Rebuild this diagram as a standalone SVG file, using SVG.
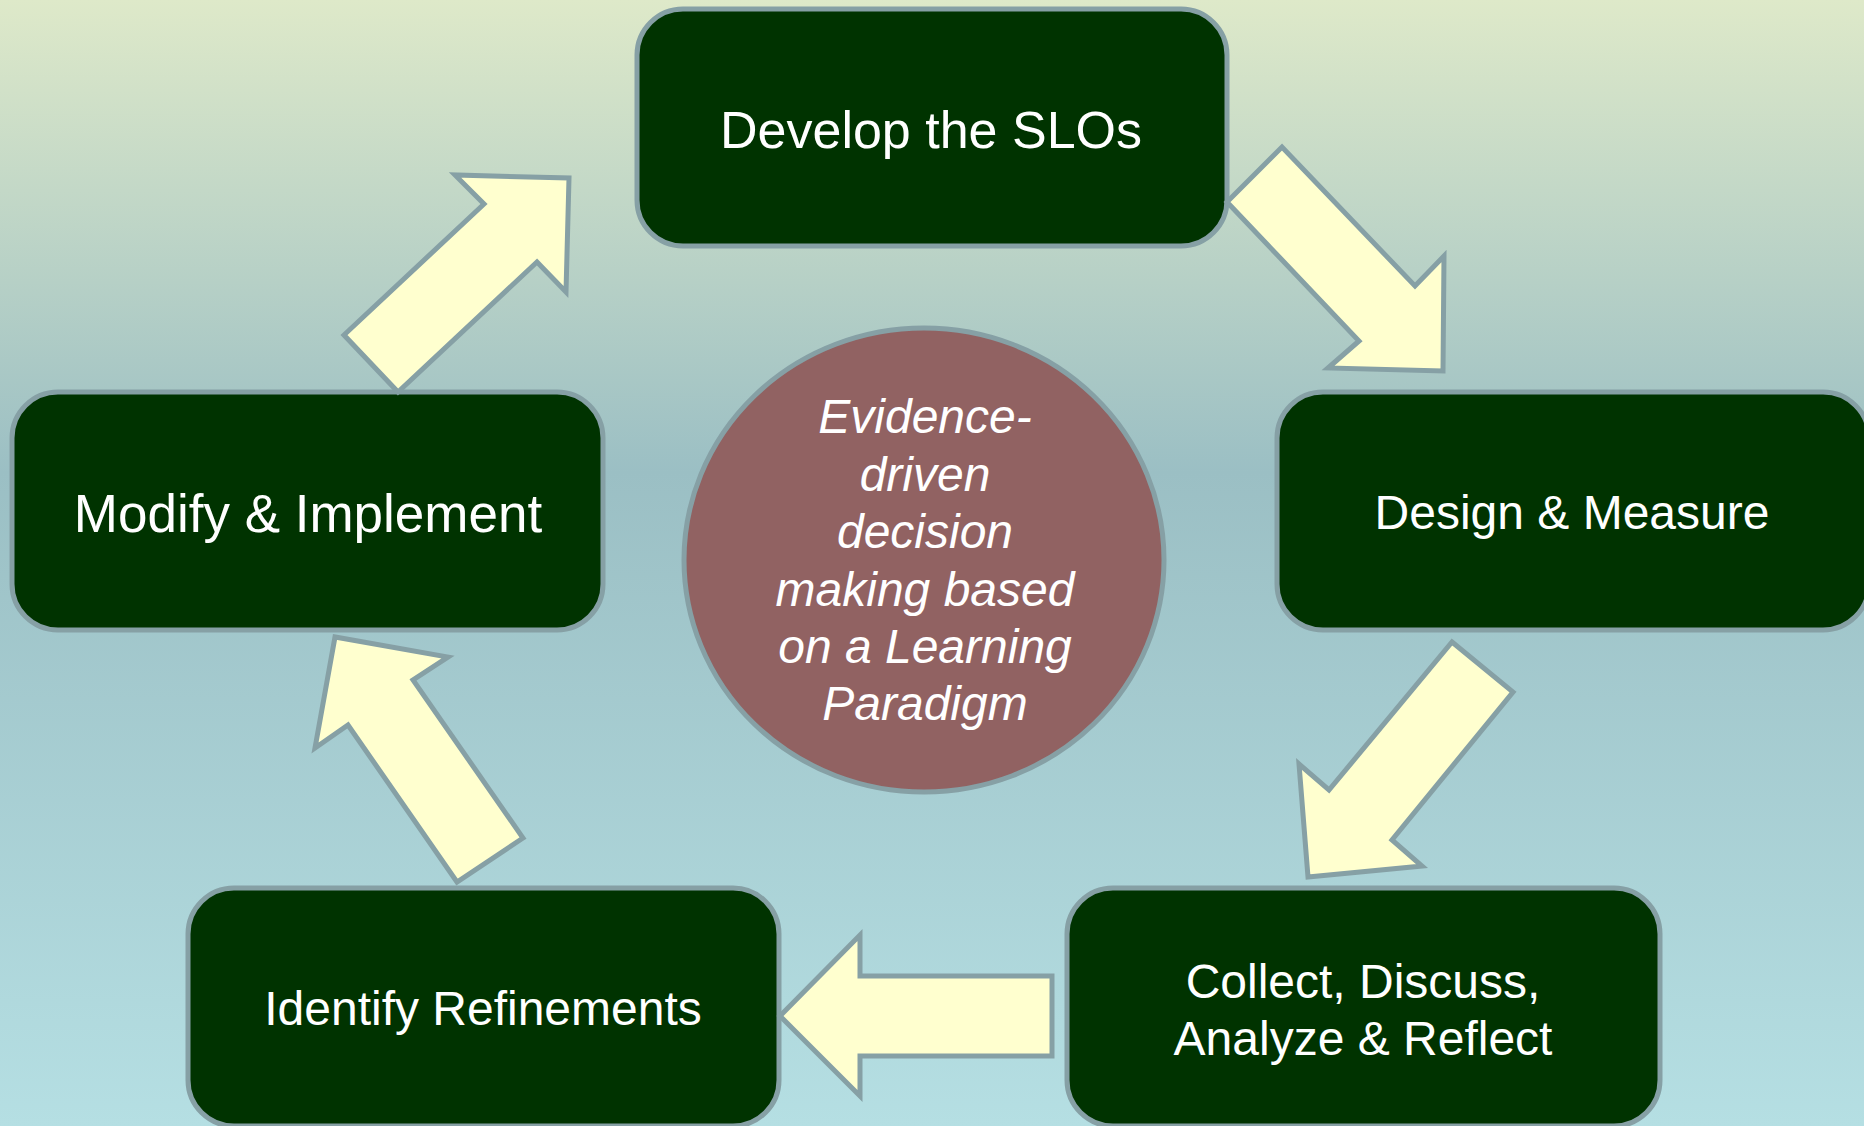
<svg xmlns="http://www.w3.org/2000/svg" width="1864" height="1126" viewBox="0 0 1864 1126">
<defs>
<linearGradient id="bg" x1="0" y1="0" x2="0" y2="1">
<stop offset="0" stop-color="#DEE9C9"/>
<stop offset="0.42" stop-color="#9BBFC4"/>
<stop offset="1" stop-color="#B5DFE3"/>
</linearGradient>
<style>
.box{fill:#003300;stroke:#86A0A5;stroke-width:5}
.arr{fill:#FFFFCF;stroke:#86A0A5;stroke-width:5;stroke-linejoin:miter}
.lbl{font-family:"Liberation Sans",Arial,sans-serif;fill:#FFFFFF;text-anchor:middle}
.ctr{font-family:"Liberation Sans",Arial,sans-serif;font-style:italic;fill:#FFFFFF;text-anchor:middle;font-size:48px}
</style>
</defs>
<rect x="0" y="0" width="1864" height="1126" fill="url(#bg)"/>
<g id="node-develop">
<rect class="box" x="637" y="9" width="590" height="237" rx="46" ry="46"/>
<text class="lbl" x="931" y="148" font-size="52">Develop the SLOs</text>
</g>
<g id="node-design">
<rect class="box" x="1277" y="392" width="592" height="238" rx="46" ry="46"/>
<text class="lbl" x="1572" y="529" font-size="48">Design &amp; Measure</text>
</g>
<g id="node-collect">
<rect class="box" x="1067" y="888" width="593" height="238" rx="46" ry="46"/>
<text class="lbl" x="1363" y="998" font-size="48">Collect, Discuss,</text>
<text class="lbl" x="1363" y="1055" font-size="48">Analyze &amp; Reflect</text>
</g>
<g id="node-identify">
<rect class="box" x="188" y="888" width="591" height="238" rx="46" ry="46"/>
<text class="lbl" x="483" y="1025" font-size="48">Identify Refinements</text>
</g>
<g id="node-modify">
<rect class="box" x="12" y="392" width="591" height="238" rx="46" ry="46"/>
<text class="lbl" x="308" y="532" font-size="53">Modify &amp; Implement</text>
</g>
<g id="node-center">
<ellipse cx="924" cy="560" rx="240" ry="232" fill="#916262" stroke="#86A0A5" stroke-width="5"/>
<text class="ctr" x="925" y="433">Evidence-</text>
<text class="ctr" x="925" y="491">driven</text>
<text class="ctr" x="925" y="548">decision</text>
<text class="ctr" x="925" y="606">making based</text>
<text class="ctr" x="925" y="663">on a Learning</text>
<text class="ctr" x="925" y="720">Paradigm</text>
</g>
<g id="connectors">
<polygon class="arr" points="1227,202 1282,147 1415,286 1444,256 1443,371 1328,368 1359,341"/>
<polygon class="arr" points="1452,642 1513,692 1392,840 1422,866 1308,877 1299,764 1329,790"/>
<polygon class="arr" points="1052,976 1052,1056 860,1056 860,1096 780,1016 860,935 860,976"/>
<polygon class="arr" points="523,838 457,882 348,725 315,748 335,637 448,657 413,680"/>
<polygon class="arr" points="398,392 344,335 484,204 455,175 569,178 566,292 537,262"/>
</g>
</svg>
